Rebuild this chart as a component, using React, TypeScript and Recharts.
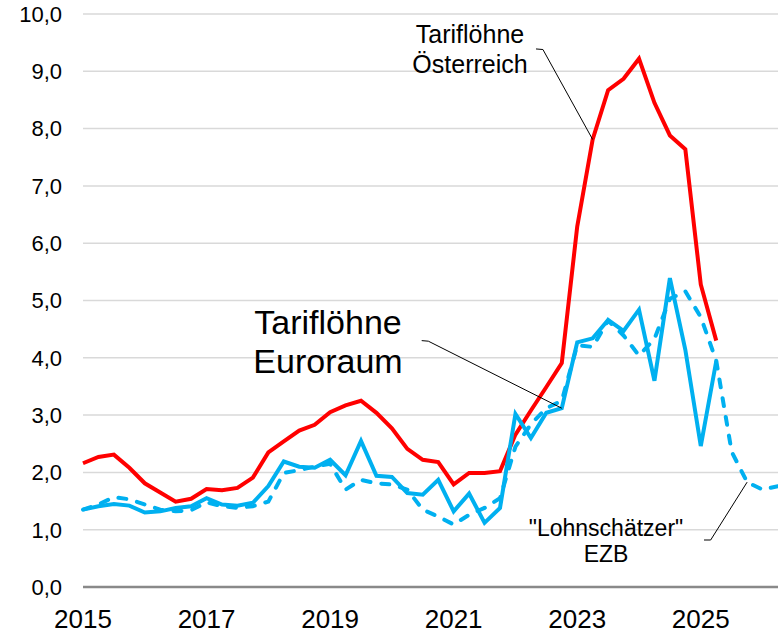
import { CartesianGrid, Line, LineChart, ReferenceLine, XAxis, YAxis } from "recharts";

const quarters = [
  "2015Q1", "2015Q2", "2015Q3", "2015Q4", "2016Q1", "2016Q2", "2016Q3", "2016Q4",
  "2017Q1", "2017Q2", "2017Q3", "2017Q4", "2018Q1", "2018Q2", "2018Q3", "2018Q4",
  "2019Q1", "2019Q2", "2019Q3", "2019Q4", "2020Q1", "2020Q2", "2020Q3", "2020Q4",
  "2021Q1", "2021Q2", "2021Q3", "2021Q4", "2022Q1", "2022Q2", "2022Q3", "2022Q4",
  "2023Q1", "2023Q2", "2023Q3", "2023Q4", "2024Q1", "2024Q2", "2024Q3", "2024Q4",
  "2025Q1", "2025Q2", "2025Q3", "2025Q4", "2026Q1", "2026Q2",
];

// Tariflöhne Österreich (% ggü. Vorjahr)
const austria = [
  2.16, 2.27, 2.31, 2.08, 1.81, 1.65, 1.49, 1.54, 1.71, 1.69, 1.73, 1.91,
  2.35, 2.54, 2.73, 2.83, 3.05, 3.17, 3.25, 3.04, 2.77, 2.41, 2.22, 2.18,
  1.79, 1.99, 1.99, 2.02, 2.66, 3.08, 3.49, 3.91, 6.29, 7.81, 8.67, 8.87,
  9.22, 8.45, 7.88, 7.64, 5.28, 4.30,
];

// Tariflöhne Euroraum
const euroArea = [
  1.35, 1.41, 1.45, 1.42, 1.30, 1.32, 1.38, 1.41, 1.55, 1.44, 1.42, 1.47,
  1.76, 2.19, 2.10, 2.08, 2.22, 1.95, 2.55, 1.94, 1.92, 1.64, 1.61, 1.87,
  1.32, 1.63, 1.12, 1.38, 3.02, 2.60, 3.04, 3.12, 4.27, 4.34, 4.66, 4.47,
  4.84, 3.60, 5.39, 4.14, 2.46, 3.94,
];

// "Lohnschätzer" EZB
const ecbTracker = [
  1.35, 1.44, 1.57, 1.53, 1.44, 1.35, 1.32, 1.34, 1.48, 1.41, 1.38, 1.41,
  1.49, 1.99, 2.04, 2.10, 2.15, 1.70, 1.87, 1.81, 1.79, 1.70, 1.35, 1.23,
  1.09, 1.26, 1.38, 1.55, 2.45, 2.84, 3.12, 3.25, 4.22, 4.19, 4.65, 4.39,
  4.04, 4.33, 5.03, 5.16, 4.71, 3.95, 2.36, 1.83, 1.70, 1.76,
];

const yTicks = [0, 1, 2, 3, 4, 5, 6, 7, 8, 9, 10];
const xTickQuarters = ["2015Q1", "2017Q1", "2019Q1", "2021Q1", "2023Q1", "2025Q1"];

const data = quarters.map((q, i) => ({
  idx: i,
  q,
  austria: austria[i] ?? null,
  euroArea: euroArea[i] ?? null,
  ecbTracker: ecbTracker[i] ?? null,
}));

const xTicks = xTickQuarters.map((q) => quarters.indexOf(q));

const FONT = "'Liberation Sans', Arial, sans-serif";
const RED = "#ff0000";
const BLUE = "#00b0f0";

export default function App() {
  return (
    <div style={{ position: "absolute", left: 0, top: 0, width: 778, height: 633, background: "#fff", fontFamily: FONT }}>
      <LineChart width={778} height={633} data={data} margin={{ top: 14, right: 0, bottom: 0, left: 0 }}>
        <CartesianGrid vertical={false} stroke="#d9d9d9" strokeWidth={1.5} />
        <XAxis
          dataKey="idx"
          type="number"
          domain={[0, quarters.length - 1]}
          ticks={xTicks}
          tickFormatter={(i: number) => quarters[i].slice(0, 4)}
          height={46}
          tickLine={false}
          tickSize={0}
          tickMargin={23}
          axisLine={{ stroke: "#898989", strokeWidth: 2.5 }}
          tick={{ fill: "#000", fontSize: 26, fontFamily: FONT }}
          interval={0}
        />
        <YAxis
          domain={[0, 10]}
          ticks={yTicks}
          tickFormatter={(v: number) => v.toFixed(1).replace(".", ",")}
          width={83}
          axisLine={false}
          tickLine={false}
          tickSize={0}
          tickMargin={21}
          tick={{ fill: "#000", fontSize: 22, fontFamily: FONT }}
          interval={0}
        />
        <Line type="linear" dataKey="austria" stroke={RED} strokeWidth={4} dot={false} isAnimationActive={false} />
        <Line
          type="linear"
          dataKey="ecbTracker"
          stroke={BLUE}
          strokeWidth={4}
          strokeDasharray="8 11"
          strokeLinecap="round"
          dot={false}
          isAnimationActive={false}
        />
        <Line type="linear" dataKey="euroArea" stroke={BLUE} strokeWidth={4} dot={false} isAnimationActive={false} />
        {/* leader lines from the labels to the series */}
        <ReferenceLine segment={[{ x: 29.33, y: 9.39 }, { x: 29.78, y: 9.38 }]} stroke="#000" strokeWidth={1} />
        <ReferenceLine segment={[{ x: 29.78, y: 9.38 }, { x: 33, y: austria[33] }]} stroke="#000" strokeWidth={1} />
        <ReferenceLine segment={[{ x: 21.93, y: 4.3 }, { x: 22.36, y: 4.29 }]} stroke="#000" strokeWidth={1} />
        <ReferenceLine segment={[{ x: 22.36, y: 4.29 }, { x: 31, y: euroArea[31] }]} stroke="#000" strokeWidth={1} />
        <ReferenceLine segment={[{ x: 40.21, y: 0.82 }, { x: 40.64, y: 0.82 }]} stroke="#000" strokeWidth={1} />
        <ReferenceLine segment={[{ x: 40.64, y: 0.82 }, { x: 43, y: ecbTracker[43] }]} stroke="#000" strokeWidth={1} />
      </LineChart>
      <svg width={778} height={633} style={{ position: "absolute", left: 0, top: 0, pointerEvents: "none" }}>
        <g fontFamily={FONT} fill="#000" textAnchor="middle">
          <text x={470} y={43} fontSize={25}>Tariflöhne</text>
          <text x={470} y={73} fontSize={25}>Österreich</text>
          <text x={328} y={334} fontSize={34}>Tariflöhne</text>
          <text x={328} y={373} fontSize={34}>Euroraum</text>
          <text x={606} y={536} fontSize={23}>"Lohnschätzer"</text>
          <text x={606} y={562} fontSize={23}>EZB</text>
        </g>
      </svg>
    </div>
  );
}
